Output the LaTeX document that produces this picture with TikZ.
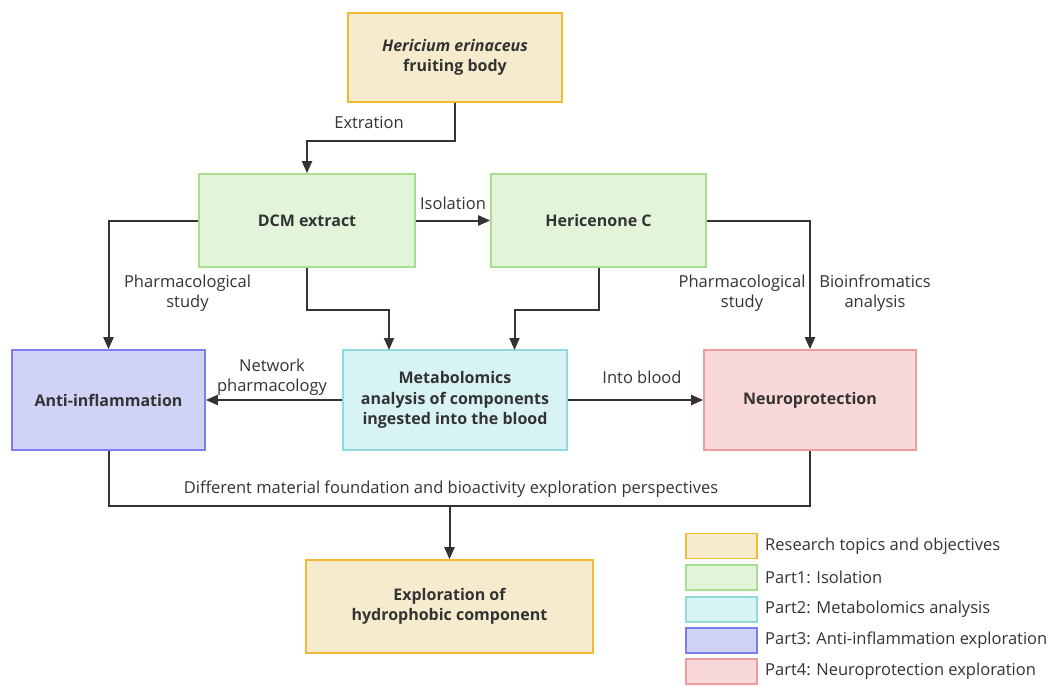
\documentclass[tikz,border=0pt]{standalone}
\usepackage{fontspec}
\setmainfont{Open Sans}
\usetikzlibrary{arrows.meta}

\definecolor{topicfill}{HTML}{F6ECCD}
\definecolor{topicline}{HTML}{F2B935}
\definecolor{onefill}{HTML}{E2F5DA}
\definecolor{oneline}{HTML}{A8DE90}
\definecolor{twofill}{HTML}{D8F3F3}
\definecolor{twoline}{HTML}{8FDADB}
\definecolor{threefill}{HTML}{D0D2F6}
\definecolor{threeline}{HTML}{7A7EF0}
\definecolor{fourfill}{HTML}{F8D8D8}
\definecolor{fourline}{HTML}{EE9C9C}
\definecolor{edgegray}{HTML}{333333}

\tikzstyle{box}=[draw,line width=1.6pt,inner sep=0pt,align=center,text=edgegray,font=\bfseries\fontsize{16}{20.5}\selectfont]
\tikzstyle{topic}=[box,draw=topicline,fill=topicfill]
\tikzstyle{isolate}=[box,draw=oneline,fill=onefill]
\tikzstyle{metab}=[box,draw=twoline,fill=twofill]
\tikzstyle{antiinf}=[box,draw=threeline,fill=threefill]
\tikzstyle{neuro}=[box,draw=fourline,fill=fourfill]
\tikzstyle{swatch}=[minimum width=71pt,minimum height=25pt]
\tikzstyle{note}=[align=center,text=edgegray,font=\fontsize{16.5}{20}\selectfont]
\tikzstyle{legtext}=[anchor=west,inner sep=0pt,text=edgegray,font=\fontsize{16.5}{20}\selectfont]
\tikzstyle{line}=[line width=2pt,edgegray]
\tikzstyle{edge}=[line,-{Triangle[length=12pt,width=10pt]}]

\begin{document}
\begin{tikzpicture}[x=1pt,y=-1pt]
    \useasboundingbox (0,0) rectangle (1052,686);

    \node (herb)[topic,minimum width=214pt,minimum height=89pt] at (455,57.5) {{\itshape Hericium erinaceus}\\fruiting body};
    \node (dcm)[isolate,minimum width=216pt,minimum height=93pt] at (307,220.5) {DCM extract};
    \node (hc)[isolate,minimum width=215pt,minimum height=93pt] at (598.5,220.5) {Hericenone C};
    \node (anti)[antiinf,minimum width=193pt,minimum height=100pt] at (108.5,400) {Anti-inflammation};
    \node (meta)[metab,minimum width=224pt,minimum height=100pt] at (455,400) {Metabolomics\\analysis of components\\ingested into the blood};
    \node (neuro)[neuro,minimum width=212pt,minimum height=100pt] at (810,400) {Neuroprotection};
    \node (explore)[topic,minimum width=287pt,minimum height=93pt] at (449.5,606.5) {Exploration of\\hydrophobic component};

    \coordinate (metain1) at (389,350);
    \coordinate (metain2) at (514.5,350);
    \coordinate (merge) at (449.5,505);

    \draw[edge] (herb.south) -- ++(0,38) -| (dcm.north);
    \draw[edge] (dcm.east) -- (hc.west);
    \draw[edge] (dcm.west) -| (anti.north);
    \draw[edge] (hc.east) -| (neuro.north);
    \draw[edge] (dcm.south) -- ++(0,42) -| (metain1);
    \draw[edge] (hc.south) -- ++(0,42) -| (metain2);
    \draw[edge] (meta.west) -- (anti.east);
    \draw[edge] (meta.east) -- (neuro.west);
    \draw[line] (anti.south) -- ++(0,55) -| (neuro.south);
    \draw[edge] (merge) -- (explore.north);

    \node (extlabel)[note] at (369,123) {Extration};
    \node (isolabel)[note] at (453,203) {Isolation};
    \node (pharmleft)[note] at (187.5,293) {Pharmacological\\study};
    \node (netlabel)[note] at (272,377) {Network\\pharmacology};
    \node (bloodlabel)[note] at (642,377) {Into blood};
    \node (pharmright)[note] at (742,293) {Pharmacological\\study};
    \node (biolabel)[note] at (875,293) {Bioinfromatics\\analysis};
    \node (difflabel)[note] at (451,489) {Different material foundation and bioactivity exploration perspectives};

    % legend
    \node (leg1)[topic,swatch] at (721.5,546) {};
    \node (leg2)[isolate,swatch] at (721.5,577.5) {};
    \node (leg3)[metab,swatch] at (721.5,609.5) {};
    \node (leg4)[antiinf,swatch] at (721.5,640.5) {};
    \node (leg5)[neuro,swatch] at (721.5,671.5) {};
    \node (legt1)[legtext] at (765,546) {Research topics and objectives};
    \node (legt2)[legtext] at (765,577.5) {Part1: Isolation};
    \node (legt3)[legtext] at (765,609.5) {Part2: Metabolomics analysis};
    \node (legt4)[legtext] at (765,640.5) {Part3: Anti-inflammation exploration};
    \node (legt5)[legtext] at (765,671.5) {Part4: Neuroprotection exploration};
\end{tikzpicture}
\end{document}
